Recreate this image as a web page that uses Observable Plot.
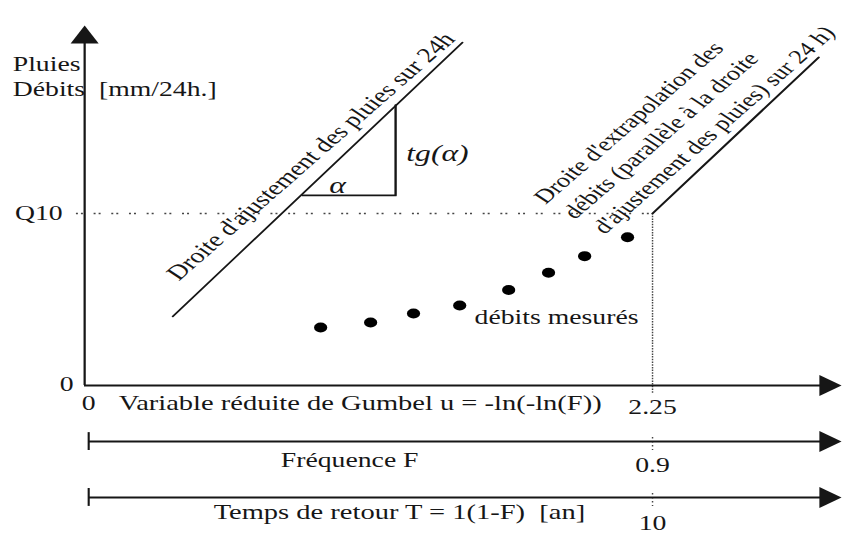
<!DOCTYPE html>
<html><head><meta charset="utf-8">
<script src="https://cdn.jsdelivr.net/npm/d3@7"></script>
<script src="https://cdn.jsdelivr.net/npm/@observablehq/plot@0.6"></script>
<style>
html,body{margin:0;padding:0;background:#fff;overflow:hidden}
#chart svg{display:block;transform:scaleX(1.31975);transform-origin:0 0}
</style></head><body><div id="chart"></div>
<script>
// Measured discharges: Gumbel reduced variable u and value (mm/24h, arbitrary scale with Q10 = 100)
const obsU = [0.935, 1.133, 1.303, 1.486, 1.680, 1.838, 1.981, 2.151];
const obsQ = [33.7, 36.6, 41.9, 46.5, 55.5, 65.5, 75.2, 86.2];
// Rain fit line (droite d'ajustement des pluies)
const rainU = [0.349, 1.497];
const rainQ = [40.1, 199.4];
// Discharge extrapolation line (parallel), starts at (u10, Q10)
const extU = [2.25, 2.908];
const extQ = [100, 190.7];
// Slope triangle tg(alpha)
const triU = [0.864, 1.232, 1.232];
const triQ = [110.5, 110.5, 163];
// Key values
const u10 = 2.25, q10 = 100;
// Horizontal scales (u, F, T): level and extent
const axisNames = ["u", "F", "T"];
const axisLevel = [0, -32.6, -65.1];
const axisStart = [0, 0.016, 0.016];
const axisEnd = 2.955;
const yAxisEnd = 200, yArrow = 204.1;
// Texts
const startTitles = ["Variable réduite de Gumbel u = -ln(-ln(F))", "Temps de retour T = 1(1-F)\u00a0\u00a0[an]"];
const startTitleU = [0.135, 0.511];
const startTitleQ = [-10.5, -73.8];
const midTitles = ["Fréquence F"];
const midTitleU = [1.050];
const midTitleQ = [-43.6];
const tickLabels10 = ["2.25", "0.9", "10"];
const tickLabelQ = [-12.8, -46.5, -80.2];
const extLabel = ["Droite d'extrapolation des", "débits (parallèle à la droite", "d'ajustement des pluies) sur 24 h)"];
const extLabelU = [1.801, 1.918, 2.035];
const extLabelQ = [107.4, 98.6, 89.9];

const pts = (U, Q) => U.map((u, i) => ({u, q: Q[i]}));
const axes = axisNames.map((n, i) => ({n, y: axisLevel[i], x1: axisStart[i], x2: axisEnd}));

const arrowRight = {draw(ctx, size) {const s = Math.sqrt(size / Math.PI); ctx.moveTo(s, 0); ctx.lineTo(-s, -1.25 * s); ctx.lineTo(-s, 1.25 * s); ctx.closePath();}};
const arrowUp = {draw(ctx, size) {const s = Math.sqrt(size / Math.PI); ctx.moveTo(0, -s); ctx.lineTo(1.18 * s, s); ctx.lineTo(-1.18 * s, s); ctx.closePath();}};

const ink = "#161616";
const chart = Plot.plot({
  width: 638, height: 533, margin: 0,
  x: {domain: [-0.3328, 3.0033], axis: null},
  y: {domain: [-86.05, 223.84], axis: null},
  style: {fontFamily: "'Liberation Serif','Times New Roman',serif", fontSize: "21px", color: ink, background: "#fff"},
  marks: [
    // dotted guides at Q10 / u10
    Plot.ruleY([q10], {x1: -0.032, x2: u10, stroke: "#444", strokeWidth: 1.3, strokeDasharray: "1.5,2.3,1.5,8.1"}),
    Plot.ruleX([u10], {y1: q10, y2: -4.7, stroke: "#444", strokeWidth: 1.1, strokeDasharray: "1.5,1.2"}),
    Plot.ruleX(axes.slice(1), {x: () => u10, y1: d => d.y + 2.3, y2: d => d.y - 5.2, stroke: "#444", strokeWidth: 1.1, strokeDasharray: "1.5,2.5"}),
    // axes
    Plot.ruleX([0], {y1: 0, y2: yAxisEnd, stroke: ink, strokeWidth: 1.7}),
    Plot.ruleY(axes, {y: "y", x1: "x1", x2: "x2", stroke: ink, strokeWidth: 2.1}),
    Plot.ruleX(axes.slice(1), {x: "x1", y1: d => d.y - 5.2, y2: d => d.y + 5.2, stroke: ink, strokeWidth: 1.6}),
    Plot.dot(axes, {x: () => axisEnd, y: "y", symbol: arrowRight, r: 8.4, fill: ink, stroke: "none"}),
    Plot.dot([0], {x: 0, y: () => yArrow, symbol: arrowUp, r: 9, fill: ink, stroke: "none"}),
    // rain fit line, slope triangle, extrapolation line
    Plot.line(pts(rainU, rainQ), {x: "u", y: "q", stroke: ink, strokeWidth: 1.5}),
    Plot.line(pts(triU, triQ), {x: "u", y: "q", stroke: ink, strokeWidth: 1.8}),
    Plot.line(pts(extU, extQ), {x: "u", y: "q", stroke: ink, strokeWidth: 1.8}),
    // measured discharges
    Plot.dot(pts(obsU, obsQ), {x: "u", y: "q", r: 5, fill: "#000", stroke: "none"}),
    // texts
    Plot.text(["Pluies"], {x: () => -0.285, y: () => 186.6, text: d => d, textAnchor: "start"}),
    Plot.text(["Débits\u00a0\u00a0[mm/24h.]"], {x: () => -0.285, y: () => 172.1, text: d => d, textAnchor: "start"}),
    Plot.text(["Q10"], {x: () => -0.087, y: () => q10, text: d => d, textAnchor: "end"}),
    Plot.text(["0"], {x: () => -0.044, y: () => 0.6, text: d => d, textAnchor: "end"}),
    Plot.text(["0"], {x: () => 0.016, y: () => -10.5, text: d => d}),
    Plot.text(startTitles, {x: (d, i) => startTitleU[i], y: (d, i) => startTitleQ[i], text: d => d, textAnchor: "start", fontSize: 21.6}),
    Plot.text(midTitles, {x: (d, i) => midTitleU[i], y: (d, i) => midTitleQ[i], text: d => d}),
    Plot.text(tickLabels10, {x: () => u10, y: (d, i) => tickLabelQ[i], text: d => d}),
    Plot.text(["débits mesurés"], {x: () => 1.545, y: () => 39.5, text: d => d, textAnchor: "start"}),
    Plot.text(["α"], {x: () => 1.002, y: () => 116.3, text: d => d, fontStyle: "italic", fontSize: 24}),
    Plot.text(["tg(α)"], {x: () => 1.398, y: () => 134.9, text: d => d, fontStyle: "italic", fontSize: 24}),
    Plot.text(["Droite d'ajustement des pluies sur 24h"], {x: () => 0.346, y: () => 63.0, text: d => d, textAnchor: "start", rotate: -49}),
    Plot.text(extLabel, {x: (d, i) => extLabelU[i], y: (d, i) => extLabelQ[i], text: d => d, textAnchor: "start", rotate: -49, fontSize: 20})
  ]
});
document.getElementById("chart").append(chart);
</script></body></html>
